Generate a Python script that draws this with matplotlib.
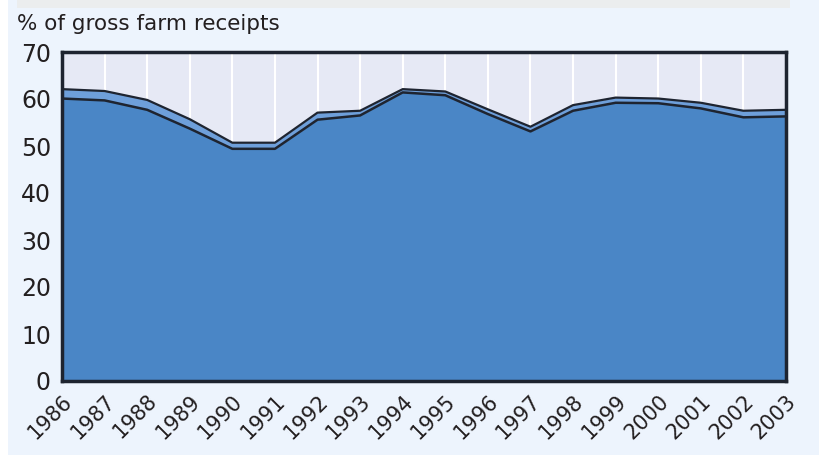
import matplotlib.pyplot as plt
import matplotlib.patches as mpatches
import matplotlib.transforms as mtransforms

# ── Data ───────────────────────────────────────────────────────────────────────
years = list(range(1986, 2004))
lower = [60.1, 59.7, 57.7, 53.7, 49.4, 49.4, 55.6, 56.5, 61.4, 60.8,
         56.8, 53.1, 57.5, 59.2, 59.1, 58.0, 56.1, 56.3]
upper = [62.1, 61.7, 59.8, 55.7, 50.7, 50.7, 57.1, 57.5, 62.1, 61.6,
         57.8, 54.1, 58.7, 60.3, 60.1, 59.2, 57.5, 57.7]
y_ticks = [0, 10, 20, 30, 40, 50, 60, 70]
title = "% of gross farm receipts"

plt.rcParams["font.family"] = ["DejaVu Sans"]

BG = "#EDF4FD"
PLOT_BG = "#E6E9F5"
DARK = "#4A86C6"
LIGHT = "#6E9FDA"
EDGE = "#1E2430"
TEXT = "#231F20"

fig = plt.figure(figsize=(8.2, 4.55), dpi=100, facecolor=BG)
fig.patches.append(mpatches.Rectangle((0, 0), 8 / 820, 1, transform=fig.transFigure,
                                      facecolor="white", edgecolor="none", zorder=0))
fig.patches.append(mpatches.Rectangle((17 / 820, 1 - 8 / 455), 773 / 820, 8 / 455,
                                      transform=fig.transFigure,
                                      facecolor="#EBEDEE", edgecolor="none", zorder=0))

ax = fig.add_axes([62 / 820, 1 - 381 / 455, (786 - 62) / 820, (381 - 52) / 455])
ax.set_facecolor(PLOT_BG)

for yr in years[1:-1]:
    ax.axvline(yr, color="white", linewidth=1.5, zorder=1)

ax.fill_between(years, lower, upper, color=LIGHT, linewidth=0, zorder=2)
ax.fill_between(years, 0, lower, color=DARK, linewidth=0, zorder=2)
ax.plot(years, upper, color=EDGE, linewidth=1.6, zorder=3)
ax.plot(years, lower, color=EDGE, linewidth=1.8, zorder=3)

ax.set_xlim(1986, 2003)
ax.set_ylim(0, 70)
ax.set_yticks(y_ticks)
ax.set_xticks(years)
ax.set_xticklabels([str(y) for y in years], rotation=45, ha="right", va="top",
                   rotation_mode="anchor")
offset = mtransforms.ScaledTranslation(7 / 100, 0, fig.dpi_scale_trans)
for lab in ax.get_xticklabels():
    lab.set_transform(lab.get_transform() + offset)

ax.tick_params(axis="both", direction="in", colors="white", length=7, width=1.5,
               labelcolor=TEXT)
ax.tick_params(axis="y", labelsize=17, pad=8)
ax.tick_params(axis="x", labelsize=15, pad=7)

for sp in ax.spines.values():
    sp.set_color(EDGE)
    sp.set_linewidth(2.5)
    sp.set_zorder(5)

fig.text(17 / 820, 1 - 24 / 455, title, fontsize=15.5, color=TEXT, va="center", ha="left")

fig.savefig("out.png", dpi=100, facecolor=fig.get_facecolor())
